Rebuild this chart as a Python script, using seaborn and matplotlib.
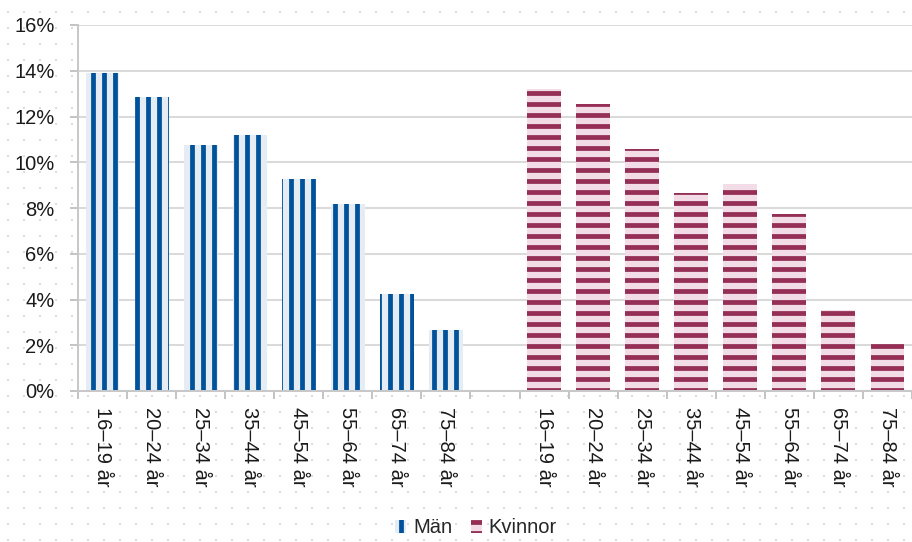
import numpy as np
import pandas as pd
import matplotlib
matplotlib.use("Agg")
import matplotlib.pyplot as plt
from matplotlib.patches import Patch
import seaborn as sns

# andel per åldersgrupp (%)
aldrar = ["16–19 år", "20–24 år", "25–34 år", "35–44 år",
          "45–54 år", "55–64 år", "65–74 år", "75–84 år"]
man = [13.9, 12.85, 10.75, 11.2, 9.27, 8.17, 4.24, 2.67]
kvinnor = [13.2, 12.55, 10.58, 8.66, 9.05, 7.74, 3.54, 2.05]
grupper = ["Män", "Kvinnor"]
yvarden = [0, 2, 4, 6, 8, 10, 12, 14, 16]

ljus = {"Män": "#e6ecf4", "Kvinnor": "#f2dce5"}
mork = {"Män": "#00529b", "Kvinnor": "#952f56"}
monster = {"Män": "|", "Kvinnor": "-"}

DPI = 66
W, H = 912, 542
FS = 22

sns.set_theme(style="white")
plt.rcParams["font.family"] = ["Liberation Sans", "DejaVu Sans"]
plt.rcParams["hatch.linewidth"] = 5.2

nycklar_man = [f"Män {a}" for a in aldrar]
nycklar_kv = [f"Kvinnor {a}" for a in aldrar]
ordning = nycklar_man + ["mellanrum"] + nycklar_kv

df = pd.DataFrame({
    "nyckel": nycklar_man + nycklar_kv,
    "andel": man + kvinnor,
    "kon": ["Män"] * len(man) + ["Kvinnor"] * len(kvinnor),
})

fig = plt.figure(figsize=(W / DPI, H / DPI), dpi=DPI)
fig.patch.set_facecolor("white")

# prickig bakgrund
bild = np.zeros((H, W, 4))
for dy in (0, 1):
    for dx in (0, 1):
        bild[11 + dy::16, 7 + dx::16] = [0.86, 0.86, 0.92, 1.0]
fig.figimage(bild, xo=0, yo=0, zorder=-1)

ax = fig.add_axes([78 / W, 1 - 391 / H, 1 - 78 / W, (391 - 25) / H])
ax.set_facecolor("white")

sns.barplot(data=df, x="nyckel", y="andel", hue="kon", order=ordning,
            hue_order=grupper, palette=ljus, width=0.69, dodge=False,
            saturation=1, errorbar=None, legend=False, ax=ax)

for cont, kon in zip(ax.containers, grupper):
    for bar in cont:
        bar.set_hatch(monster[kon])
        bar.set_edgecolor(mork[kon])
        bar.set_linewidth(0)

ax.set_xlim(-0.5, 16.4)
ax.set_ylim(0, 16)
ax.set_yticks(yvarden, [f"{v}%" for v in yvarden])
ax.yaxis.grid(True, color="#dadada", lw=2.2)
ax.set_axisbelow(True)

ax.set_xticks(np.arange(-0.5, len(ordning), 1))
ax.set_xticklabels([])
pos = list(range(8)) + list(range(9, 17))
ax.set_xticks(pos, aldrar + aldrar, minor=True, rotation=270,
              ha="center", va="top")
ax.tick_params(axis="x", which="major", length=8.5, width=2,
               color="#c0c0c0", direction="out", bottom=True)
ax.tick_params(axis="x", which="minor", length=0, pad=17,
               labelsize=FS, labelcolor="#1a1a1a")
ax.tick_params(axis="y", length=8.5, width=2, color="#c0c0c0",
               direction="out", left=True, pad=17, labelsize=FS,
               labelcolor="#1a1a1a")
ax.set_xlabel("")
ax.set_ylabel("")

for side in ("top", "right"):
    ax.spines[side].set_visible(False)
for side in ("left", "bottom"):
    ax.spines[side].set_color("#c8c8c8")
    ax.spines[side].set_linewidth(2.2)

handtag = [Patch(facecolor=ljus[k], edgecolor=mork[k], hatch=monster[k],
                 lw=0, label=k) for k in grupper]
fig.legend(handles=handtag, loc="center", bbox_to_anchor=(476 / W, 0.026),
           ncol=2, frameon=False, fontsize=FS, handlelength=0.55,
           handleheight=0.65, handletextpad=0.35, columnspacing=0.9,
           borderpad=0)

fig.savefig("out.png", dpi=DPI)
